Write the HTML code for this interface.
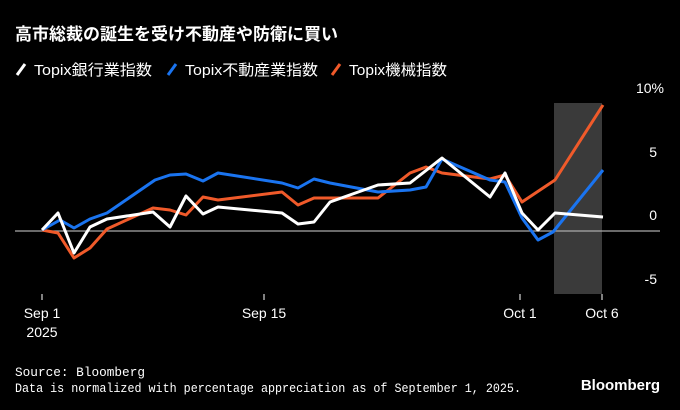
<!DOCTYPE html>
<html><head><meta charset="utf-8"><style>
body{margin:0;background:#000;width:680px;height:410px;overflow:hidden;font-family:"Liberation Sans","Noto Sans CJK JP",sans-serif;color:#fff}
</style></head><body>
<svg width="680" height="410" xmlns="http://www.w3.org/2000/svg" style="position:absolute;left:0;top:0">
<text x="15" y="40" font-size="17" font-weight="bold" fill="#fff" font-family="Liberation Sans,Noto Sans CJK JP,sans-serif">高市総裁の誕生を受け不動産や防衛に買い</text>
<g font-size="15" fill="#fff" font-family="Liberation Sans,Noto Sans CJK JP,sans-serif">
<line x1="17" y1="75" x2="25" y2="64" stroke="#fff" stroke-width="3"/>
<text x="34" y="75" textLength="118" lengthAdjust="spacingAndGlyphs">Topix銀行業指数</text>
<line x1="168" y1="75" x2="176" y2="64" stroke="#1a74f0" stroke-width="3"/>
<text x="185" y="75" textLength="133" lengthAdjust="spacingAndGlyphs">Topix不動産業指数</text>
<line x1="332" y1="75" x2="340" y2="64" stroke="#f05a2a" stroke-width="3"/>
<text x="349" y="75" textLength="98" lengthAdjust="spacingAndGlyphs">Topix機械指数</text>
</g>
<rect x="554" y="103" width="48" height="191" fill="#3a3a3a"/>
<line x1="15" y1="231" x2="660" y2="231" stroke="#aaa" stroke-width="1.2"/>
<g font-size="14" fill="#fff" text-anchor="end">
<text x="664" y="93">10%</text>
<text x="657" y="157">5</text>
<text x="657" y="220">0</text>
<text x="657" y="284">-5</text>
</g>
<g stroke="#fff" stroke-width="1"><line x1="42" y1="294" x2="42" y2="300"/><line x1="264" y1="294" x2="264" y2="300"/><line x1="520" y1="294" x2="520" y2="300"/><line x1="602" y1="294" x2="602" y2="300"/></g>
<g font-size="14" fill="#fff" text-anchor="middle">
<text x="42" y="318">Sep 1</text><text x="42" y="337">2025</text>
<text x="264" y="318">Sep 15</text><text x="520" y="318">Oct 1</text><text x="602" y="318">Oct 6</text>
</g>
<g fill="none" stroke-width="3" stroke-linejoin="round">
<polyline stroke="#f05a2a" points="42,230 58,233 74,258 90,248 107,229 153,208 170,210 186,215 203,197 218,200 282,192 298,205 314,198 330,198 378,198 410,173 426,167 442,173 490,179 505,175 522,202 555,180 603,105"/>
<polyline stroke="#1a74f0" points="42,230 60,220 74,228 90,219 107,213 155,180 170,175 186,174 203,181 218,173 282,183 298,188 314,179 330,183 378,192 410,190 426,187 442,159 490,180 505,182 522,218 538,240 553,232 603,170"/>
<polyline stroke="#fff" points="42,230 58,213 74,253 90,227 107,219 153,212 170,227 186,196 203,214 218,207 282,213 298,224 314,222 330,202 378,185 410,183 442,158 490,197 505,173 522,213 538,230 555,213 603,217"/>
</g>
<text x="15" y="376" font-size="13" fill="#fff" font-family="Liberation Mono,monospace" textLength="130" lengthAdjust="spacingAndGlyphs">Source: Bloomberg</text>
<text x="15" y="392" font-size="13" fill="#fff" font-family="Liberation Mono,monospace" textLength="506" lengthAdjust="spacingAndGlyphs">Data is normalized with percentage appreciation as of September 1, 2025.</text>
<text x="660" y="390" font-size="15" font-weight="bold" fill="#fff" text-anchor="end">Bloomberg</text>
</svg>
</body></html>
